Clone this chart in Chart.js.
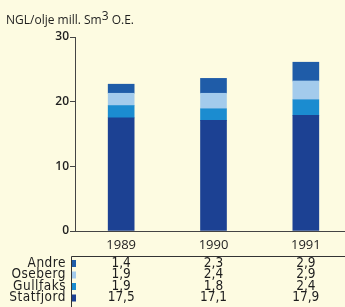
<!DOCTYPE html>
<html>
<head>
<meta charset="utf-8">
<script src="https://cdn.jsdelivr.net/npm/chart.js@4"></script>
<style>
    html, body { margin: 0; padding: 0; background: #fdfbe1; overflow: hidden; }
    #wrap { width: 352px; height: 307px; position: relative; }
</style>
</head>
<body>
<div id="wrap"><canvas id="grafico"></canvas></div>
<script>
// dados
var anos = ['1989', '1990', '1991'];
var statfjord = [17.5, 17.1, 17.9];
var gullfaks = [1.9, 1.8, 2.4];
var oseberg = [1.9, 2.4, 2.9];
var andre = [1.4, 2.3, 2.9];
var ticksY = [0, 10, 20, 30];

var cores = {
    statfjord: '#1c4193',
    gullfaks: '#1b8cd0',
    oseberg: '#a3cbec',
    andre: '#1f5ca8'
};
var fonte = "'Open Sans', 'DejaVu Sans', sans-serif";
var fonteTab = "'DejaVu Sans Condensed', 'DejaVu Sans', sans-serif";

// linhas da tabela, de cima para baixo
var linhas = [
    {nome: 'Andre', valores: andre, cor: cores.andre},
    {nome: 'Oseberg', valores: oseberg, cor: cores.oseberg},
    {nome: 'Gullfaks', valores: gullfaks, cor: cores.gullfaks},
    {nome: 'Statfjord', valores: statfjord, cor: cores.statfjord}
];

function fmt(v) {
    return v.toFixed(1).replace('.', ',');
}

var tabelaPlugin = {
    id: 'tabela',
    afterDraw: function (chart) {
        var ctx = chart.ctx;
        var xs = chart.scales.x;
        ctx.save();
        // titulo
        ctx.fillStyle = '#1e1e1e';
        ctx.textBaseline = 'alphabetic';
        ctx.textAlign = 'left';
        ctx.font = '12px ' + fonte;
        var t1 = 'NGL/olje mill. Sm';
        ctx.fillText(t1, 6, 24);
        var w1 = ctx.measureText(t1).width;
        ctx.fillText('3', 6 + w1, 20);
        var w2 = ctx.measureText('3').width;
        ctx.fillText(' O.E.', 6 + w1 + w2, 24);

        // caixa da tabela
        ctx.strokeStyle = '#333';
        ctx.lineWidth = 1;
        ctx.beginPath();
        ctx.moveTo(71.5, 307);
        ctx.lineTo(71.5, 256.5);
        ctx.lineTo(352, 256.5);
        ctx.stroke();

        ctx.font = '13.5px ' + fonteTab;
        ctx.textBaseline = 'middle';
        linhas.forEach(function (l, i) {
            var y = 263 + i * 11.5;
            ctx.textAlign = 'right';
            ctx.fillStyle = '#1e1e1e';
            ctx.letterSpacing = '0.5px';
            ctx.fillText(l.nome, 66, y);
            ctx.letterSpacing = '0px';
            ctx.fillStyle = l.cor;
            ctx.fillRect(72, y - 3, 4, 7);
            ctx.textAlign = 'center';
            ctx.fillStyle = '#1e1e1e';
            l.valores.forEach(function (v, j) {
                ctx.fillText(fmt(v), xs.getPixelForValue(j), y);
            });
        });
        ctx.restore();
    }
};

var ctx = document.getElementById('grafico').getContext('2d');
var myChart = new Chart(ctx, {
    type: 'bar',
    data: {
        labels: anos,
        datasets: [
            {label: 'Statfjord', data: statfjord, backgroundColor: cores.statfjord},
            {label: 'Gullfaks', data: gullfaks, backgroundColor: cores.gullfaks},
            {label: 'Oseberg', data: oseberg, backgroundColor: cores.oseberg},
            {label: 'Andre', data: andre, backgroundColor: cores.andre}
        ]
    },
    options: {
        responsive: true,
        maintainAspectRatio: false,
        animation: false,
        layout: {padding: {top: 37, right: 0, left: 0, bottom: 0}},
        datasets: {bar: {barThickness: 26}},
        plugins: {
            legend: {display: false},
            tooltip: {enabled: false}
        },
        scales: {
            x: {
                stacked: true,
                grid: {display: false},
                border: {display: true, color: '#444', width: 1},
                ticks: {color: '#1e1e1e', font: {family: fonte, size: 13}, padding: -2},
                afterFit: function (s) { s.height = 307 - 231; }
            },
            y: {
                stacked: true,
                min: 0,
                max: 30,
                afterBuildTicks: function (s) {
                    s.ticks = ticksY.map(function (v) { return {value: v}; });
                },
                grid: {drawOnChartArea: false, drawTicks: true, tickLength: 5, color: '#444'},
                border: {display: true, color: '#444', width: 1},
                ticks: {color: '#1e1e1e', font: {family: fonte, size: 12, weight: '600'}, padding: 1},
                afterFit: function (s) { s.width = 75; }
            }
        }
    },
    plugins: [tabelaPlugin]
});
</script>
</body>
</html>
